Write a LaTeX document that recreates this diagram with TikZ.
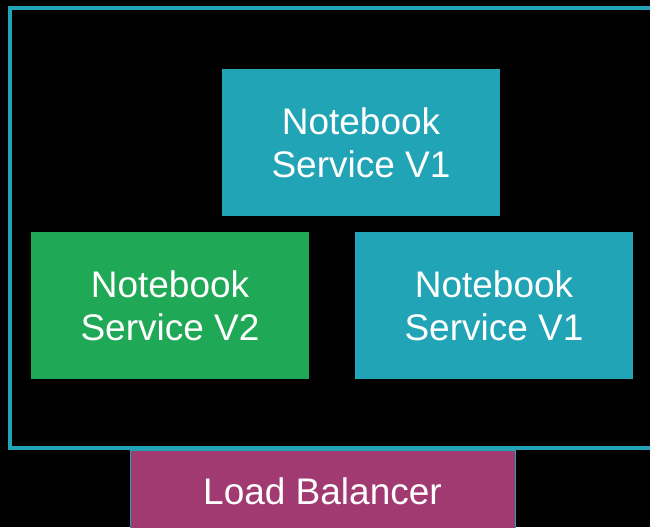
\documentclass[tikz,border=0pt]{standalone}
\usepackage{fontspec}
\setmainfont{Liberation Sans}
\definecolor{svcteal}{HTML}{21A4B6}
\definecolor{svcgreen}{HTML}{1FA855}
\definecolor{lbmagenta}{HTML}{A03A70}
\tikzset{svc/.style={rectangle, fill=svcteal, text=white, align=center,
      minimum width=278pt, minimum height=147pt, inner sep=0pt,
      font=\fontsize{37}{43}\selectfont}}
\tikzset{svcnew/.style={svc, fill=svcgreen}}
\tikzset{lbbox/.style={rectangle, fill=lbmagenta, draw=svcteal, line width=1pt,
      text=white, minimum width=385pt, minimum height=82pt, inner sep=0pt,
      font=\fontsize{37}{43}\selectfont}}

\begin{document}
\begin{tikzpicture}[x=1pt,y=-1pt]
    \useasboundingbox (0,0) rectangle (650,527);
    \clip (0,0) rectangle (650,527);
    \fill[black] (0,0) rectangle (650,527);
    % cluster frame
    \draw[svcteal, line width=4pt] (10,8) rectangle (670,448);

    \node[svc] (nbTop) at (361,142.5) {Notebook\\Service V1};
    \node[svcnew] (nbLeft) at (170,305.5) {Notebook\\Service V2};
    \node[svc] (nbRight) at (494,305.5) {Notebook\\Service V1};

    \node[lbbox, anchor=north] (lb) at (322.5,450) {Load Balancer};
  \end{tikzpicture}
\end{document}
